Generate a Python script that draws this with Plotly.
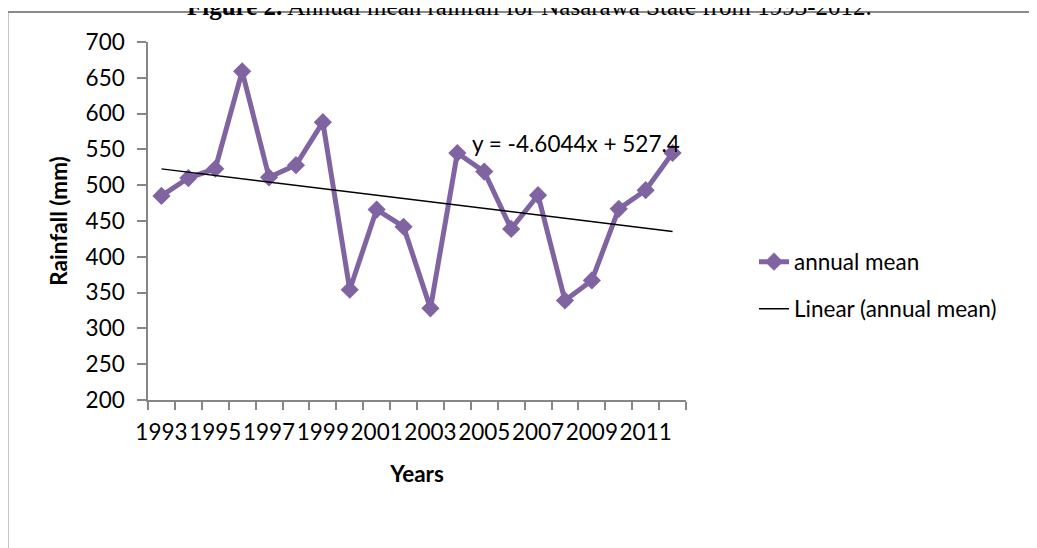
import plotly.graph_objects as go

# ---- data ----
years = list(range(1993, 2013))
rainfall = [485, 510, 523, 659, 511, 528, 588, 354, 466, 442,
            328, 545, 519, 439, 486, 339, 367, 467, 493, 545]
trend_slope = -4.6044
trend_intercept = 527.4
label_years = [str(y) for y in range(1993, 2012, 2)]
y_ticks = list(range(200, 701, 50))

trend = [trend_slope * (i + 1) + trend_intercept for i in range(len(years))]

# ---- geometry (page pixels; the page body adds an 8px offset) ----
W, H = 1037, 548
OFF = 8
L, R, T, B = 148, 686, 42, 400   # plot area in page pixels


def px2x(px):
    return (px - L) / (R - L)


def py2y(py):
    return (B - py) / (B - T)


FONT = "Lato"
FS = 22.5
PURPLE = "#8064A2"
GRAY = "#868686"

fig = go.Figure()
fig.add_trace(go.Scatter(
    x=years, y=rainfall, mode="lines+markers", name="annual mean",
    line=dict(color=PURPLE, width=5),
    marker=dict(symbol="diamond", size=14, color=PURPLE),
    legend="legend",
))
fig.add_trace(go.Scatter(
    x=years, y=trend, mode="lines", name="Linear (annual mean)",
    line=dict(color="black", width=1.5),
    legend="legend2",
))

fig.update_layout(
    width=W, height=H,
    margin=dict(l=L - OFF, r=W - (R - OFF), t=T - OFF, b=H - (B - OFF), autoexpand=False),
    paper_bgcolor="white", plot_bgcolor="white",
    font=dict(family=FONT, size=FS, color="black"),
    showlegend=True,
    legend=dict(x=px2x(754), y=py2y(262), xanchor="left", yanchor="middle",
                font=dict(family=FONT, size=FS), bgcolor="rgba(0,0,0,0)"),
    legend2=dict(x=px2x(754), y=py2y(309), xanchor="left", yanchor="middle",
                 font=dict(family=FONT, size=FS), bgcolor="rgba(0,0,0,0)"),
    xaxis=dict(
        range=[1992.5, 2012.5], tickmode="array",
        tickvals=[int(v) for v in label_years], ticktext=label_years,
        tickangle=0,
        ticks="", showgrid=False, zeroline=False,
        showline=True, linecolor=GRAY, linewidth=1.5,
        ticklabelstandoff=11,
        tickfont=dict(family=FONT, size=FS),
        minor=dict(tickmode="array",
                   tickvals=[y - 0.5 for y in years] + [years[-1] + 0.5],
                   ticks="outside", ticklen=8, tickcolor=GRAY, tickwidth=1.5,
                   showgrid=False),
        title=dict(text="<b>Years</b>", font=dict(family=FONT, size=FS), standoff=22),
        automargin=False,
    ),
    yaxis=dict(
        range=[200, 700], tickmode="array", tickvals=y_ticks,
        ticks="outside", ticklen=9, tickcolor=GRAY, tickwidth=1.5,
        showgrid=False, zeroline=False,
        showline=True, linecolor=GRAY, linewidth=1.5,
        ticklabelstandoff=8,
        tickfont=dict(family=FONT, size=FS),
        title=dict(text="<b>Rainfall (mm)</b>", font=dict(family=FONT, size=FS), standoff=12),
        automargin=False,
    ),
)

# outer chart border (extends past the right and bottom of the window)
fig.add_shape(type="rect", xref="paper", yref="paper",
              x0=px2x(7.5), y0=py2y(570), x1=px2x(1055), y1=py2y(12),
              line=dict(color="#8A8A8A", width=2), fillcolor="rgba(0,0,0,0)",
              layer="below")

# partially visible figure caption at the very top
fig.add_annotation(xref="paper", yref="paper", x=px2x(529), y=py2y(6),
                   xanchor="center", yanchor="middle", showarrow=False,
                   text="<b>Figure 2.</b> Annual mean rainfall for Nasarawa State from 1993-2012.",
                   font=dict(family="Liberation Serif", size=25, color="black"))

# trendline equation
fig.add_annotation(xref="paper", yref="paper", x=px2x(470), y=py2y(143),
                   xanchor="left", yanchor="middle", showarrow=False,
                   text=f"y = {trend_slope}x + {trend_intercept}",
                   font=dict(family=FONT, size=FS, color="black"))

fig.write_html("out.html")
